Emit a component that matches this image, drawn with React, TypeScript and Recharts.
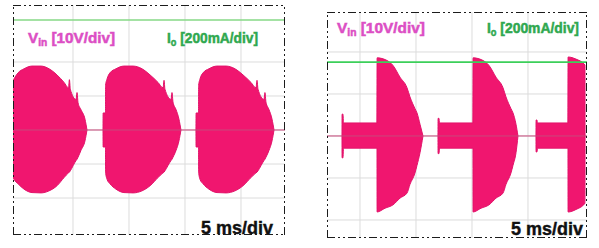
import React from "react";
import { ComposedChart, Area, Line, XAxis, YAxis, ReferenceLine, CartesianGrid } from "recharts";

// [time ms, low V, high V]
type Pt = [number, number, number];

// ---------- Left capture ----------
const leftBurst1: Pt[] = [
  [-0.54, 0, 0], [-0.53, -12.4, 13.2], [-0.27, -14.5, 15.0], [0.09, -15.8, 16.8],
  [0.63, -17.4, 18.0], [1.34, -18.4, 18.8], [2.14, -18.5, 18.8], [2.86, -17.9, 18.0],
  [3.57, -16.4, 16.2], [4.2, -14.0, 14.0], [4.6, -12.6, 12.4], [4.68, -12.4, 14.8],
  [4.76, -12.0, 12.0], [5.27, -9.0, 9.0], [5.36, -8.6, 11.0], [5.45, -8.0, 8.0],
  [5.71, -6.0, 6.0], [6.07, -3.2, 3.2], [6.25, 0, 0],
];
const leftBurst2: Pt[] = [
  [7.68, 0, 0], [7.69, -5, 5], [7.9, -5, 5], [7.91, -12.4, 13.2], [8.04, -14.5, 15.0],
  [8.3, -15.8, 16.8], [8.84, -17.4, 18.0], [9.55, -18.4, 18.8], [10.36, -18.5, 18.8],
  [11.16, -17.9, 18.0], [11.88, -16.4, 16.2], [12.59, -14.0, 14.0], [13.04, -12.6, 12.4],
  [13.13, -12.4, 14.6], [13.21, -12.0, 12.0], [13.75, -9.0, 9.0], [13.84, -8.6, 11.0],
  [13.93, -8.0, 8.2], [14.2, -6.0, 6.0], [14.46, -3.2, 3.2], [14.64, 0, 0],
];
const leftBurst3: Pt[] = [
  [15.98, 0, 0], [15.99, -5, 5], [16.21, -5, 5], [16.22, -12.4, 13.2], [16.34, -14.5, 15.0],
  [16.61, -15.8, 16.8], [17.14, -17.4, 18.0], [17.86, -18.4, 18.8], [18.66, -18.5, 18.8],
  [19.46, -17.9, 18.0], [20.18, -16.4, 16.2], [20.89, -14.0, 14.0], [21.34, -12.6, 12.4],
  [21.43, -12.4, 14.6], [21.52, -12.0, 12.0], [22.05, -9.0, 9.0], [22.14, -8.6, 11.0],
  [22.23, -8.0, 8.2], [22.5, -6.0, 6.0], [22.77, -3.2, 3.2], [22.95, 0, 0],
];
const leftTimeDomain: [number, number] = [-0.357, 23.93];
const leftVoltDomain: [number, number] = [-30.88, 36.76];
const leftIoDomain: [number, number] = [-617.6, 735.3];
const leftIoLevel = 647;

// ---------- Right capture ----------
const rightBurst1: Pt[] = [
  [3.393, 0, 0], [3.402, -5.2, 5.2], [3.482, -5.2, 5.2], [3.527, -2.9, 3.1], [6.518, -2.9, 3.1],
  [6.527, -18.1, 18.6], [7.232, -17.2, 18.2], [7.946, -16.4, 16.8], [8.571, -14.8, 14.0],
  [9.196, -13.6, 11.5], [9.464, -11.5, 9.3], [9.911, -8.8, 6.5], [10.089, -7.0, 5.5],
  [10.357, -4.0, 2.8], [10.625, 0, 0],
];
const rightBurst2: Pt[] = [
  [11.964, 0, 0], [11.973, -4.2, 4.2], [12.054, -4.2, 4.2], [12.098, -2.9, 3.1], [15.089, -2.9, 3.1],
  [15.098, -18.1, 18.6], [15.804, -17.2, 18.2], [16.518, -16.4, 16.8], [17.143, -14.8, 14.0],
  [17.768, -13.6, 11.5], [18.036, -11.5, 9.3], [18.482, -8.8, 6.5], [18.661, -7.0, 5.5],
  [18.929, -4.0, 2.8], [19.107, 0, 0],
];
const rightBurst3: Pt[] = [
  [20.714, 0, 0], [20.723, -3.8, 3.8], [20.804, -3.8, 3.8], [20.848, -2.9, 3.1], [23.571, -2.9, 3.1],
  [23.58, -18.1, 18.8], [24.286, -17.5, 18.3], [25.089, -16.0, 16.9], [25.098, 0, 0],
];
const rightTimeDomain: [number, number] = [2.054, 25.27];
const rightVoltDomain: [number, number] = [-24.29, 29.52];
const rightIoDomain: [number, number] = [-485.7, 590.5];
const rightIoLevel = 352;

// ---------- shared ----------
const gridTimes = [5, 10, 15, 20];
const gridVolts = [20, 10, 0, -10, -20];
const vinLabel = ["V", "in", " [10V/div]"];
const ioLabel = ["I", "o", " [200mA/div]"];
const timebaseLabel = "5 ms/div";

const toSeries = (pts: Pt[]) => pts.map(([t, lo, hi]) => ({ t, range: [lo, hi] }));

const FRAME_DASH = "8 3 2 3 2 3";

function Scope(props: {
  width: number;
  height: number;
  bursts: Pt[][];
  timeDomain: [number, number];
  voltDomain: [number, number];
  ioDomain: [number, number];
  ioLevel: number;
  ioColor: string;
}) {
  const { width, height, bursts, timeDomain, voltDomain, ioDomain, ioLevel, ioColor } = props;
  const baseline = [
    { t: timeDomain[0], v: 0 },
    { t: timeDomain[1], v: 0 },
  ];
  const io = [
    { t: timeDomain[0], io: ioLevel },
    { t: timeDomain[1], io: ioLevel },
  ];
  return (
    <ComposedChart width={width} height={height} margin={{ top: 0, right: 0, bottom: 0, left: 0 }}>
      <CartesianGrid
        stroke="#dcdcdc"
        strokeWidth={1}
        verticalValues={gridTimes}
        horizontalValues={gridVolts}
        yAxisId="v"
      />
      <XAxis hide type="number" dataKey="t" domain={timeDomain} ticks={gridTimes} allowDataOverflow />
      <YAxis hide yAxisId="v" type="number" domain={voltDomain} ticks={gridVolts} allowDataOverflow />
      <YAxis hide yAxisId="io" orientation="right" type="number" domain={ioDomain} allowDataOverflow />
      <Line
        yAxisId="v"
        data={baseline}
        dataKey="v"
        stroke="#c8487c"
        strokeWidth={1}
        dot={false}
        activeDot={false}
        isAnimationActive={false}
      />
      {bursts.map((b, i) => (
        <Area
          key={i}
          yAxisId="v"
          data={toSeries(b)}
          dataKey="range"
          type="monotone"
          stroke="#e3126a"
          strokeWidth={1}
          fill="#f0166f"
          fillOpacity={1}
          dot={false}
          activeDot={false}
          isAnimationActive={false}
        />
      ))}
      <Line
        yAxisId="io"
        data={io}
        dataKey="io"
        stroke={ioColor}
        strokeWidth={1.6}
        dot={false}
        activeDot={false}
        isAnimationActive={false}
      />
      <ReferenceLine yAxisId="v" x={timeDomain[0]} stroke="#1c1c1c" strokeWidth={2} strokeDasharray={FRAME_DASH} />
      <ReferenceLine yAxisId="v" x={timeDomain[1]} stroke="#1c1c1c" strokeWidth={2} strokeDasharray={FRAME_DASH} />
      <ReferenceLine yAxisId="v" y={voltDomain[0]} stroke="#1c1c1c" strokeWidth={2} strokeDasharray={FRAME_DASH} />
      <ReferenceLine yAxisId="v" y={voltDomain[1]} stroke="#1c1c1c" strokeWidth={2} strokeDasharray={FRAME_DASH} />
    </ComposedChart>
  );
}

const FONT = "'Liberation Sans', Arial, sans-serif";

function Labels() {
  const vin = "#dc4ec4";
  const ioC = "#2fa84f";
  const lab = (x: number, y: number, parts: string[], color: string, len: number, key: string) => (
    <text
      key={key}
      x={x}
      y={y}
      fill={color}
      stroke={color}
      strokeWidth={0.5}
      fontSize={15}
      fontWeight="bold"
      fontFamily={FONT}
      textLength={len}
      lengthAdjust="spacingAndGlyphs"
    >
      {parts[0]}
      <tspan fontSize={10} dy={3}>{parts[1]}</tspan>
      <tspan dy={-3}>{parts[2]}</tspan>
    </text>
  );
  return (
    <svg width={599} height={248} style={{ position: "absolute", left: 0, top: 0, pointerEvents: "none" }}>
      {lab(28, 43, vinLabel, vin, 87, "a")}
      {lab(167, 43, ioLabel, ioC, 91, "b")}
      <text x={273} y={234} textAnchor="end" fontSize={18} fontWeight="bold" fontFamily={FONT} fill="#111" stroke="#111" strokeWidth={0.4}>
        {timebaseLabel}
      </text>
      {lab(337, 33, vinLabel, vin, 88, "c")}
      {lab(487, 33, ioLabel, ioC, 92, "d")}
      <text x={583} y={235} textAnchor="end" fontSize={18} fontWeight="bold" fontFamily={FONT} fill="#111" stroke="#111" strokeWidth={0.4}>
        {timebaseLabel}
      </text>
    </svg>
  );
}

export default function App() {
  return (
    <div style={{ position: "absolute", left: 0, top: 0, width: 599, height: 248, background: "#fff", overflow: "hidden" }}>
      <div style={{ position: "absolute", left: 13, top: 5 }}>
        <Scope
          width={272}
          height={230}
          bursts={[leftBurst1, leftBurst2, leftBurst3]}
          timeDomain={leftTimeDomain}
          voltDomain={leftVoltDomain}
          ioDomain={leftIoDomain}
          ioLevel={leftIoLevel}
          ioColor="#86d886"
        />
      </div>
      <div style={{ position: "absolute", left: 327, top: 12 }}>
        <Scope
          width={260}
          height={226}
          bursts={[rightBurst1, rightBurst2, rightBurst3]}
          timeDomain={rightTimeDomain}
          voltDomain={rightVoltDomain}
          ioDomain={rightIoDomain}
          ioLevel={rightIoLevel}
          ioColor="#3ccf5a"
        />
      </div>
      <Labels />
    </div>
  );
}
